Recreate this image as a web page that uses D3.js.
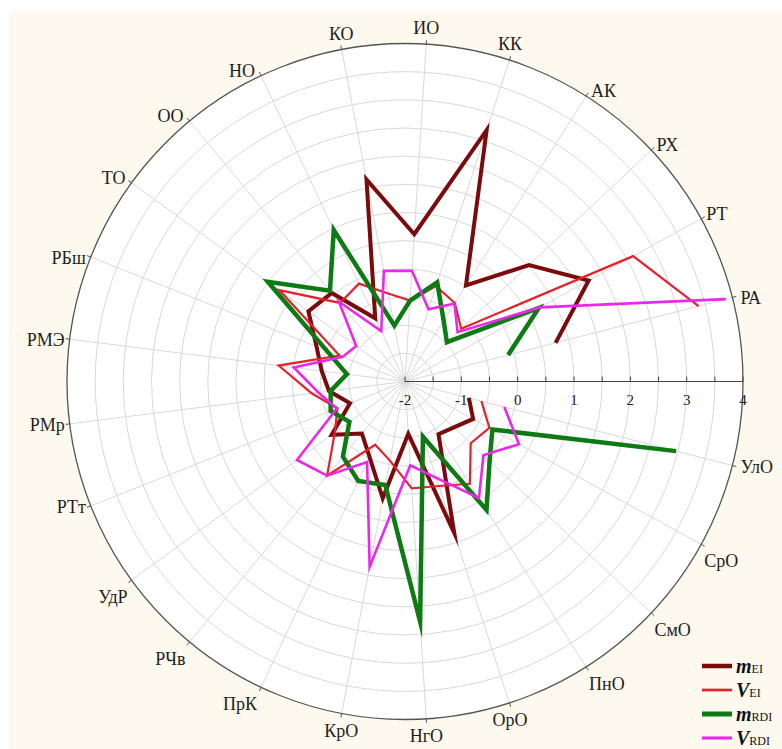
<!DOCTYPE html>
<html>
<head>
<meta charset="utf-8">
<script src="https://cdn.jsdelivr.net/npm/d3@7"></script>
<style>
  html, body { margin: 0; padding: 0; background: #ffffff; }
  svg { display: block; }
</style>
</head>
<body>
<svg id="chart" width="782" height="749"></svg>
<script>
// Categories, clockwise from the radial axis (3 o'clock); one empty slot is left on the axis itself
const categories = ["УлО","СрО","СмО","ПнО","ОрО","НгО","КрО","ПрК","РЧв","УдР","РТт","РМр",
                    "РМЭ","РБш","ТО","ОО","НО","КО","ИО","КК","АК","РХ","РТ","РА"];

// Series values
const mEI  = [-0.83,-0.62,-0.81,-0.89, 0.83,-1.07, 0.11,-0.52,-0.80,-0.39,-0.95,-0.64,
              -0.51,-0.31, 0.12, 0.04,-0.76, 1.65, 0.62, 2.69, 0.02, 1.02, 1.72, 0.76];
const vEI  = [-0.60,-0.29,-0.40, 0.15,-0.05,-0.10,-0.57,-0.76, 0.17,-0.46,-0.71,-0.33,
               0.26,-0.75, 0.76,-0.19,-0.08,-0.41,-0.56,-0.22,-0.35,-0.63, 2.62, 3.38];
const mRDI = [ 2.97,-0.23, 0.06, 0.70,-0.97, 2.27,-0.13,-0.05,-0.27,-0.78,-0.58,-0.67,
              -0.96,-0.50, 1.01, 0.09, 0.97,-0.99,-0.56,-0.15,-0.72,-0.98, 0.71,-0.11];
const vRDI = [-0.18, 0.31,-0.09, 0.45,-0.20,-0.51, 1.35,-0.42, 0.17, 0.37,-0.70,-0.45,
              -0.01,-0.81,-0.93,-0.16,-1.01, 0.00,-0.03,-0.65,-0.36,-0.72, 0.73, 3.88];

// Radial axis ticks
const tickValues = [-2, -1, 0, 1, 2, 3, 4];
const gridStep = 0.5;

const seriesNames = [
  {base: "m", sub: "EI"},
  {base: "V", sub: "EI"},
  {base: "m", sub: "RDI"},
  {base: "V", sub: "RDI"}
];
const seriesData = [mEI, vEI, mRDI, vRDI];
const seriesColors = ["#7a0a0c", "#e3232b", "#0d7a14", "#ea28ea"];
const seriesWidths = [4, 2.2, 4.5, 2.6];

const svg = d3.select("#chart");
const W = 782, H = 749;
const cx = 405, cy = 381.5, R = 338;
const slots = categories.length + 1;

// panel background
svg.append("rect").attr("x", 9).attr("y", 11).attr("width", W - 9).attr("height", H - 11)
  .attr("fill", "#fdf9ee");

const g = svg.append("g").attr("transform", `translate(${cx},${cy})`);

const r = d3.scaleLinear().domain([-2, 4]).range([0, R]);
// angle in lineRadial convention (0 = 12 o'clock, clockwise); slot 0 sits at 3 o'clock
const slotAngle = d3.scaleLinear().domain([0, slots]).range([Math.PI / 2, Math.PI / 2 + 2 * Math.PI]);
const angleOf = i => slotAngle(i + 1);
const px = (a, rad) => rad * Math.sin(a);
const py = (a, rad) => -rad * Math.cos(a);

// plot disc
g.append("circle").attr("r", R).attr("fill", "#ffffff");

// concentric grid circles
const gridVals = d3.range(-2 + gridStep, 4, gridStep);
g.selectAll("circle.grid").data(gridVals).enter().append("circle")
  .attr("class", "grid")
  .attr("r", d => r(d))
  .attr("fill", "none")
  .attr("stroke", "#d8d8d8")
  .attr("stroke-width", 1);

// spokes
g.selectAll("line.spoke").data(categories).enter().append("line")
  .attr("class", "spoke")
  .attr("x1", 0).attr("y1", 0)
  .attr("x2", (d, i) => px(angleOf(i), R))
  .attr("y2", (d, i) => py(angleOf(i), R))
  .attr("stroke", "#d8d8d8")
  .attr("stroke-width", 1);

// outer circle
g.append("circle").attr("r", R).attr("fill", "none").attr("stroke", "#555").attr("stroke-width", 1.3);

// outer tick marks
g.selectAll("line.otick").data(categories).enter().append("line")
  .attr("x1", (d, i) => px(angleOf(i), R))
  .attr("y1", (d, i) => py(angleOf(i), R))
  .attr("x2", (d, i) => px(angleOf(i), R + 4))
  .attr("y2", (d, i) => py(angleOf(i), R + 4))
  .attr("stroke", "#555").attr("stroke-width", 1);

// category labels
g.selectAll("text.cat").data(categories).enter().append("text")
  .attr("class", "cat")
  .each(function (d, i) {
    const a = angleOf(i);
    const s = Math.sin(a), c = -Math.cos(a); // s: rightward, c: downward
    const tx = px(a, R), ty = py(a, R);
    let x, y, anchor;
    if (c > 0.45) {            // lower half
      y = ty + 17;
      if (s > 0.45) { anchor = "start"; x = tx + 3; }
      else if (s < -0.35) { anchor = "end"; x = tx - 4; }
      else { anchor = "middle"; x = tx + 2 * s; }
    } else if (c < -0.45) {    // upper half
      if (Math.abs(s) < 0.35) { anchor = "middle"; x = tx + 2 * s; y = ty - 16; }
      else if (s > 0) { anchor = "start"; x = tx + 5; y = ty - 5; }
      else { anchor = "end"; x = tx - 6; y = ty - 5; }
    } else {                   // sides
      if (s > 0) { anchor = "start"; x = tx + 8; y = ty + 1; }
      else { anchor = "end"; x = tx - 5; y = ty + 1; }
    }
    d3.select(this).attr("x", x).attr("y", y).attr("text-anchor", anchor)
      .attr("dominant-baseline", "central");
  })
  .text(d => d)
  .attr("font-family", "'Liberation Serif', 'Times New Roman', serif")
  .attr("font-size", 18)
  .attr("fill", "#1e1e1e");

// radial axis along slot 0
const axisG = g.append("g");
axisG.append("line").attr("x1", 0).attr("y1", 0).attr("x2", R).attr("y2", 0)
  .attr("stroke", "#444").attr("stroke-width", 1.2);
axisG.selectAll("line.atick").data(d3.range(-2, 4 + 1e-9, gridStep)).enter().append("line")
  .attr("x1", d => r(d)).attr("x2", d => r(d))
  .attr("y1", 0).attr("y2", -5)
  .attr("stroke", "#444").attr("stroke-width", 1);
axisG.selectAll("text.alabel").data(tickValues).enter().append("text")
  .attr("x", d => r(d)).attr("y", 18)
  .attr("text-anchor", "middle").attr("dominant-baseline", "central")
  .attr("font-family", "'Liberation Serif', 'Times New Roman', serif")
  .attr("font-size", 15).attr("fill", "#222")
  .text(d => d);

// series polylines (open, from the first to the last category)
const line = d3.lineRadial()
  .angle((d, i) => angleOf(i))
  .radius(d => r(d))
  .curve(d3.curveLinear);

seriesData.forEach((vals, k) => {
  g.append("path")
    .datum(vals)
    .attr("d", line)
    .attr("fill", "none")
    .attr("stroke", seriesColors[k])
    .attr("stroke-width", seriesWidths[k])
    .attr("stroke-linejoin", "miter")
    .attr("stroke-miterlimit", 10);
});

// legend
const lg = svg.append("g").attr("transform", "translate(702,666)");
seriesNames.forEach((s, k) => {
  const row = lg.append("g").attr("transform", `translate(0,${k * 24})`);
  row.append("line").attr("x1", 0).attr("x2", 30).attr("y1", 0).attr("y2", 0)
    .attr("stroke", seriesColors[k]).attr("stroke-width", seriesWidths[k] + 0.5);
  const t = row.append("text").attr("x", 34).attr("y", 0)
    .attr("dominant-baseline", "central")
    .attr("font-family", "'Liberation Serif', 'Times New Roman', serif")
    .attr("fill", "#111");
  t.append("tspan").attr("font-size", 20).attr("font-weight", "bold").attr("font-style", "italic").text(s.base);
  t.append("tspan").attr("font-size", 12).attr("dy", 3).text(s.sub);
});
</script>
</body>
</html>
